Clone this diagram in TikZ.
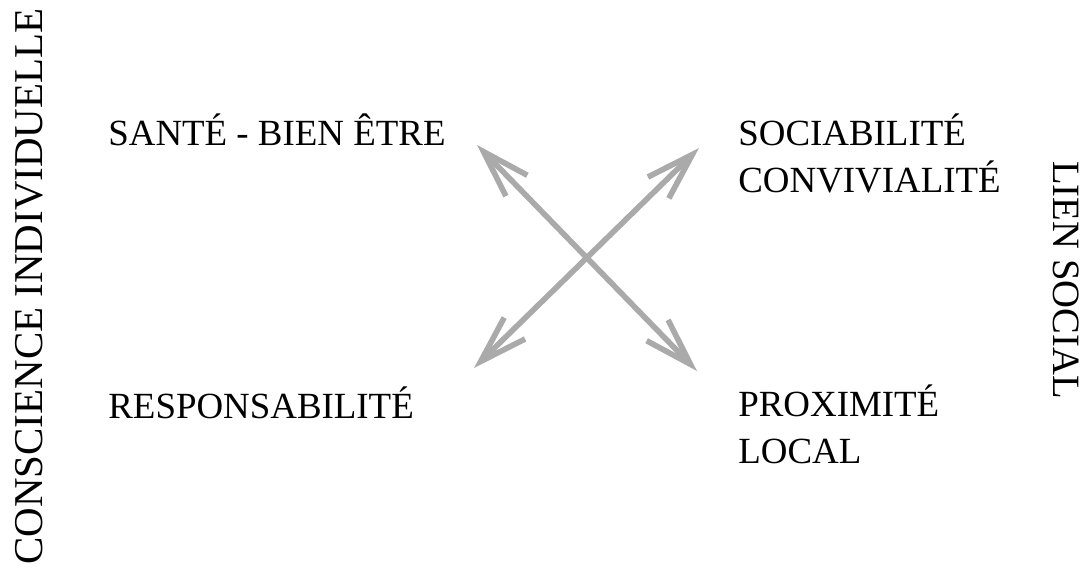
\documentclass[tikz,border=0pt]{standalone}
\usepackage{fontspec}
\setmainfont{Liberation Serif}
\usepackage{tkz-euclide}
\usetikzlibrary{arrows.meta}
\definecolor{grisflecha}{RGB}{170,170,170}

\begin{document}
\begin{tikzpicture}[
    flecha/.style={draw=grisflecha, line width=3.2pt,
      {Straight Barb[length=27pt,width=17pt]}-{Straight Barb[length=27pt,width=17pt]}},
    etiqueta/.style={inner sep=0pt, anchor=base west, align=left,
      font=\fontsize{21}{26.6}\selectfont},
    eje/.style={inner sep=0pt, anchor=base, font=\fontsize{22}{26}\selectfont}]
    % Fija el marco del dibujo.
    \useasboundingbox (0,0) rectangle (21.72,11.36);

    % Define los extremos de las flechas.
    \tkzDefPoint(9.54,8.46){A}
    \tkzDefPoint(13.94,3.94){B}
    \tkzDefPoint(13.98,8.40){C}
    \tkzDefPoint(9.48,4.00){D}

    % Dibuja las dos flechas dobles que se cruzan.
    \draw[flecha] (A) -- (B);
    \draw[flecha] (C) -- (D);

    % Coloca los textos de las cuatro esquinas (base en la última línea).
    \node[etiqueta] (sante) at (2.16,8.46) {SANTÉ - BIEN ÊTRE};
    \node[etiqueta] (responsabilite) at (2.16,3.00) {RESPONSABILITÉ};
    \node[etiqueta] (sociabilite) at (14.76,7.52) {SOCIABILITÉ\\CONVIVIALITÉ};
    \node[etiqueta] (proximite) at (14.76,2.10) {PROXIMITÉ\\LOCAL};

    % Etiqueta los dos ejes laterales.
    \node[eje, rotate=90, font=\fontsize{23.3}{27}\selectfont] (conscience) at (0.84,5.63) {CONSCIENCE INDIVIDUELLE};
    \node[eje, rotate=-90] (lien) at (21.06,5.76) {LIEN SOCIAL};
\end{tikzpicture}
\end{document}
